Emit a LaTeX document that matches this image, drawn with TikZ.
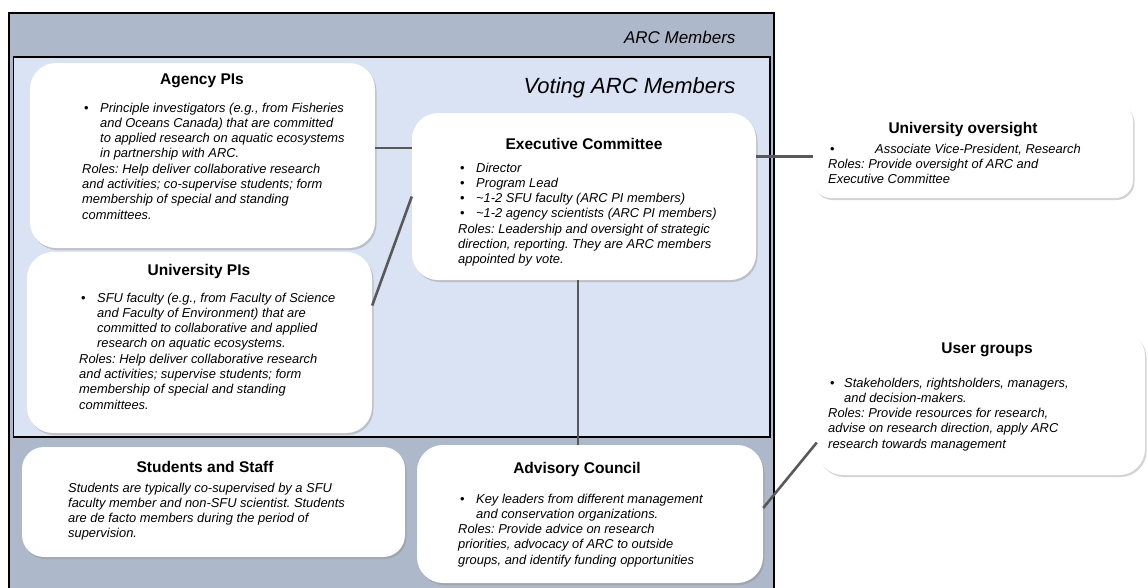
\documentclass[tikz,border=0pt]{standalone}
\usepackage{fontspec}
\setmainfont{Liberation Sans}
\usetikzlibrary{calc,shadows}
\frenchspacing

\definecolor{arcgray}{HTML}{ADB9CA}
\definecolor{voteblue}{HTML}{DAE3F3}
\definecolor{linkgray}{HTML}{595959}

\newcommand{\titlefont}{\fontsize{15.5}{18}\selectfont\bfseries}
\newcommand{\bodyfont}{\fontsize{12.9}{15.3}\selectfont\itshape}
\newcommand{\bitem}[2][18pt]{\makebox[#1][l]{\hspace{2pt}\upshape\textbullet}#2}
\newcommand{\bcont}[2][18pt]{\hspace*{#1}#2}

\tikzset{
	card/.style={fill=white, inner sep=0pt, rounded corners=26pt,
		drop shadow={shadow xshift=1.5pt, shadow yshift=-2pt, opacity=.35}},
	cardtitle/.style={anchor=base, font=\titlefont},
	cardtext/.style={anchor=base west, inner sep=0pt, font=\bodyfont},
	link/.style={draw=linkgray, line width=2.6pt}
}

\begin{document}
\begin{tikzpicture}[x=1pt,y=-1pt]
			%%%%% START %%%%%
			\useasboundingbox (0,0) rectangle (1148,587);
			
			\draw[fill=arcgray, line width=1.2pt] (9,13) rectangle (774,592);
			\node[anchor=base east, font=\fontsize{17}{20}\selectfont\itshape] (arc-title) at (739,43) {ARC Members};
			
			\draw[fill=voteblue, line width=1.4pt] (13.5,57) rectangle (770,437);
			\node[anchor=base east, font=\fontsize{22}{26}\selectfont\itshape] (vote-title) at (739,93) {Voting ARC Members};
			
			\node[card, minimum width=345pt, minimum height=185pt] (agency) at (202.5,155.5) {};
			\node[card, minimum width=345pt, minimum height=181pt] (univ) at (199.5,342.5) {};
			\node[card, minimum width=344pt, minimum height=167pt] (exec) at (584,196.5) {};
			\node[card, minimum width=320pt, minimum height=95pt, rounded corners=18pt] (oversight) at (973,150.5) {};
			\node[card, minimum width=328pt, minimum height=145pt] (users) at (981,402.5) {};
			\node[card, minimum width=383pt, minimum height=110pt, rounded corners=22pt] (students) at (213.5,502) {};
			\node[card, minimum width=346pt, minimum height=138pt] (advisory) at (590,514) {};
			
			\draw[link] (agency.east) ++(0,-7.5) coordinate (ag-link) -- (ag-link -| exec.west);
			\draw[link] (univ.east) ++(0,-37) -- (exec.west);
			\draw[link] (exec.south) ++(-6,0) coordinate (ex-link) -- (ex-link |- advisory.north);
			\draw[link] (exec.east) ++(0,-40) coordinate (ov-link) -- (ov-link -| oversight.west);
			\draw[link] (advisory.east) ++(0,-6) -- ($(users.west)+(0,40)$);
			
			\node[cardtitle] (agency-title) at (202,84) {Agency PIs};
			\node[cardtext] (agency-text) at (82,112) {\begin{tabular}[t]{@{}l@{}}
				\bitem{Principle investigators (e.g., from Fisheries}\\
				\bcont{and Oceans Canada) that are committed}\\
				\bcont{to applied research on aquatic ecosystems}\\
				\bcont{in partnership with ARC.}\\
				Roles: Help deliver collaborative research\\
				and activities; co-supervise students; form\\
				membership of special and standing\\
				committees.
			\end{tabular}};
			
			\node[cardtitle] (univ-title) at (199,275) {University PIs};
			\node[cardtext] (univ-text) at (79,302) {\begin{tabular}[t]{@{}l@{}}
				\bitem{SFU faculty (e.g., from Faculty of Science}\\
				\bcont{and Faculty of Environment) that are}\\
				\bcont{committed to collaborative and applied}\\
				\bcont{research on aquatic ecosystems.}\\
				Roles: Help deliver collaborative research\\
				and activities; supervise students; form\\
				membership of special and standing\\
				committees.
			\end{tabular}};
			
			\node[cardtitle] (exec-title) at (584,149) {Executive Committee};
			\node[cardtext] (exec-text) at (458,172) {\begin{tabular}[t]{@{}l@{}}
				\bitem{Director}\\
				\bitem{Program Lead}\\
				\bitem{\textasciitilde1-2 SFU faculty (ARC PI members)}\\
				\bitem{\textasciitilde1-2 agency scientists (ARC PI members)}\\
				Roles: Leadership and oversight of strategic\\
				direction, reporting. They are ARC members\\
				appointed by vote.
			\end{tabular}};
			
			\node[cardtitle] (oversight-title) at (963,133) {University oversight};
			\node[cardtext] (oversight-text) at (828,153) {\begin{tabular}[t]{@{}l@{}}
				\bitem[47pt]{Associate Vice-President, Research}\\
				Roles: Provide oversight of ARC and\\
				Executive Committee
			\end{tabular}};
			
			\node[cardtitle] (users-title) at (987,353) {User groups};
			\node[cardtext] (users-text) at (828,387) {\begin{tabular}[t]{@{}l@{}}
				\bitem[16pt]{Stakeholders, rightsholders, managers,}\\
				\bcont[16pt]{and decision-makers.}\\
				Roles: Provide resources for research,\\
				advise on research direction, apply ARC\\
				research towards management
			\end{tabular}};
			
			\node[cardtitle] (students-title) at (205,472) {Students and Staff};
			\node[cardtext] (students-text) at (68,492) {\begin{tabular}[t]{@{}l@{}}
				Students are typically co-supervised by a SFU\\
				faculty member and non-SFU scientist. Students\\
				are de facto members during the period of\\
				supervision.
			\end{tabular}};
			
			\node[cardtitle] (advisory-title) at (577,473) {Advisory Council};
			\node[cardtext] (advisory-text) at (458,503) {\begin{tabular}[t]{@{}l@{}}
				\bitem{Key leaders from different management}\\
				\bcont{and conservation organizations.}\\
				Roles: Provide advice on research\\
				priorities, advocacy of ARC to outside\\
				groups, and identify funding opportunities
			\end{tabular}};
			%%%%% END %%%%%
\end{tikzpicture}
\end{document}
